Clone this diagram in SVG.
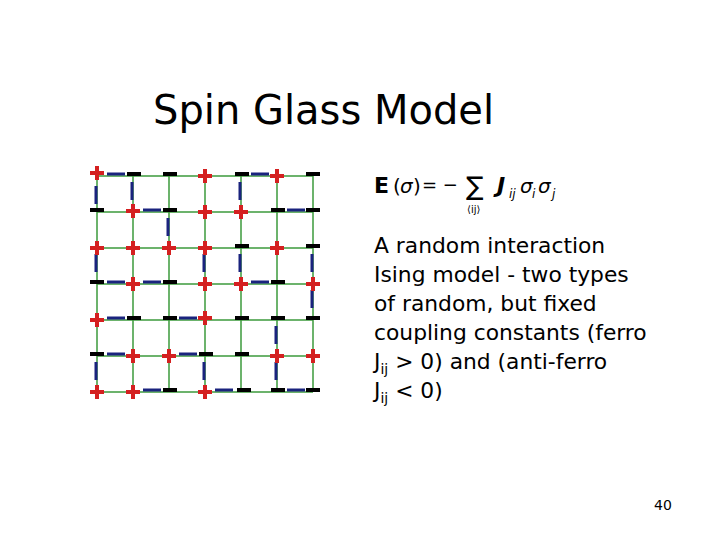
<svg xmlns="http://www.w3.org/2000/svg" width="720" height="540" viewBox="0 0 720 540">
<style>
.g{stroke:#3c9a3c;stroke-width:1.5;fill:none}
.b{stroke:#1a237e;stroke-width:3;fill:none}
.p{stroke:#d42020;stroke-width:4;fill:none}
.m{stroke:#000;stroke-width:4;fill:none}
.t{font-family:"DejaVu Sans",sans-serif;fill:#000}
</style>
<rect width="720" height="540" fill="#fff"/>
<text class="t" x="153" y="124" font-size="40">Spin Glass Model</text>
<g id="grid">
<path class="g" d="M97 176H313M97 212H313M97 248H313M97 284H313M97 320H313M97 356H313M97 392H313M97 176V392M133 176V392M169 176V392M205 176V392M241 176V392M277 176V392M313 176V392"/>
</g>
<g id="connectors">
<path class="b" d="M107 174h18M251 174h18M143 210h18M287 210h18M107 282h18M143 282h18M251 282h18M107 318h18M179 318h18M107 354h18M179 354h18M143 390h18M215 390h18M287 390h18"/>
<path class="b" d="M96 186v18M132 182v18M240 182v18M168 218v18M96 254v18M204 254v18M240 254v18M312 254v18M312 290v18M276 326v18M96 362v18M204 362v18M276 362v18"/>
</g>
<g id="spins">
<path class="p" d="M90 173h14M97 166v14M198 176h14M205 169v14M270 176h14M277 169v14
M126 211h14M133 204v14M198 212h14M205 205v14M234 212h14M241 205v14
M90 248h14M97 241v14M126 248h14M133 241v14M162 248h14M169 241v14M198 248h14M205 241v14M270 248h14M277 241v14
M126 284h14M133 277v14M198 284h14M205 277v14M234 284h14M241 277v14M306 284h14M313 277v14
M90 320h14M97 313v14M198 318h14M205 311v14
M126 356h14M133 349v14M162 356h14M169 349v14M270 356h14M277 349v14M306 356h14M313 349v14
M90 392h14M97 385v14M126 392h14M133 385v14M198 392h14M205 385v14"/>
<path class="m" d="M127 174h14M163 174h14M235 174h14M306 174h14
M90 210h14M163 210h14M271 210h14M306 210h14
M235 246h14M306 246h14
M90 282h14M163 282h14M271 282h14
M127 318h14M163 318h14M235 318h14M271 318h14M306 318h14
M90 354h14M199 354h14M235 354h14
M163 390h14M237 390h14M271 390h14M306 390h14"/>
</g>
<g id="formula" class="t">
<text x="374" y="193" font-size="22" font-weight="bold">E</text>
<text x="393" y="193" font-size="20">(</text>
<text x="400" y="193" font-size="20" font-style="italic">σ</text>
<text x="413" y="193" font-size="20">)</text>
<text x="422" y="191" font-size="18">= −</text>
<text x="466" y="195" font-size="26">∑</text>
<text x="467" y="213" font-size="10">⟨ij⟩</text>
<text x="497" y="193" font-size="22" font-weight="bold" font-style="italic">J</text>
<text x="509" y="198" font-size="12" font-style="italic">ij</text>
<text x="520" y="193" font-size="20" font-style="italic">σ</text>
<text x="532" y="198" font-size="12" font-style="italic">i</text>
<text x="538" y="193" font-size="20" font-style="italic">σ</text>
<text x="552" y="198" font-size="12" font-style="italic">j</text>
</g>
<g id="desc" class="t" font-size="21.8">
<text x="374" y="253">A random interaction</text>
<text x="374" y="282">Ising model - two types</text>
<text x="374" y="311">of random, but fixed</text>
<text x="374" y="340">coupling constants (ferro</text>
<text x="374" y="369">J<tspan font-size="14" dy="5">ij</tspan><tspan dy="-5"> &gt; 0) and (anti-ferro</tspan></text>
<text x="374" y="398">J<tspan font-size="14" dy="5">ij</tspan><tspan dy="-5"> &lt; 0)</tspan></text>
</g>
<text class="t" x="654" y="510" font-size="14">40</text>
</svg>
